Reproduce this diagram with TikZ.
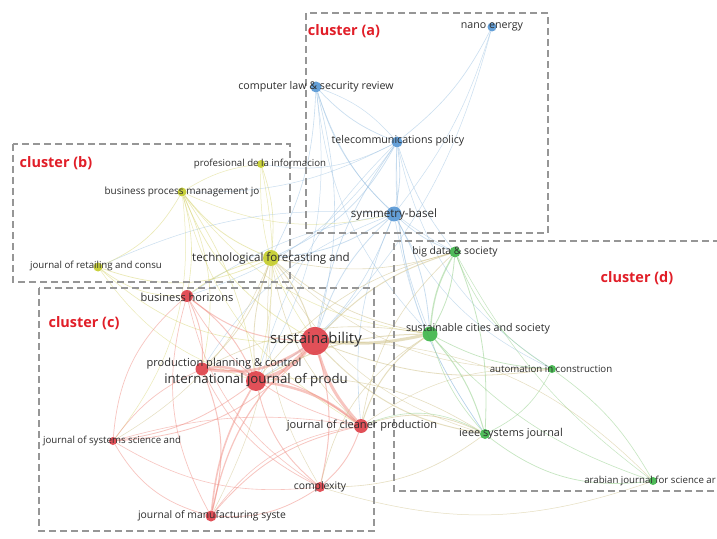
\documentclass[tikz,border=0pt]{standalone}
\usepackage{fontspec}
\setmainfont{Open Sans}
\pgfdeclarelayer{bg}
\pgfdeclarelayer{edges}
\pgfdeclarelayer{boxes}
\pgfsetlayers{bg,edges,boxes,main}
\definecolor{cred}{RGB}{222,62,70}
\definecolor{cblue}{RGB}{85,150,212}
\definecolor{cyel}{RGB}{196,204,40}
\definecolor{cgrn}{RGB}{60,180,72}
\definecolor{lred}{RGB}{240,140,130}
\definecolor{lblue}{RGB}{150,190,225}
\definecolor{lyel}{RGB}{215,212,110}
\definecolor{lgrn}{RGB}{140,205,130}
\definecolor{lbrn}{RGB}{205,190,130}
\definecolor{labelgray}{RGB}{45,45,45}
\definecolor{boxgray}{RGB}{150,150,150}
\definecolor{titlered}{RGB}{225,30,40}
\tikzset{
  vnode/.style={circle, inner sep=0pt, draw=none, fill=#1, fill opacity=0.9},
  lbl/.style={font=\fontsize{#1}{#1}\selectfont, text=labelgray, inner sep=0pt},
  clbox/.style={draw=boxgray, line width=1.6bp, dash pattern=on 7bp off 4bp},
  cltitle/.style={font=\fontsize{14.5}{14.5}\selectfont\bfseries, text=titlered, inner sep=0pt},
}
\begin{document}
\begin{tikzpicture}[x=1bp,y=-1bp]
\useasboundingbox (0,0) rectangle (717,539);
\begin{pgfonlayer}{bg}
\fill[white] (0,0) rectangle (717,539);
\end{pgfonlayer}
% ---------------- nodes (circles)
\node[vnode=cblue, minimum size=9bp]  (nano) at (492,27) {};
\node[vnode=cblue, minimum size=11bp] (comp) at (316,87) {};
\node[vnode=cblue, minimum size=11bp] (tele) at (397,142) {};
\node[vnode=cblue, minimum size=15bp] (sym)  at (394,214) {};
\node[vnode=cyel, minimum size=8bp]   (prof) at (261,164) {};
\node[vnode=cyel, minimum size=9bp]   (bpm)  at (182,192) {};
\node[vnode=cyel, minimum size=9bp]   (ret)  at (98,267) {};
\node[vnode=cyel, minimum size=16bp]  (tf)   at (271,258) {};
\node[vnode=cred, minimum size=12bp]  (bh)   at (187,296) {};
\node[vnode=cred, minimum size=28bp]  (sust) at (315,341) {};
\node[vnode=cred, minimum size=13bp]  (ppc)  at (202,369) {};
\node[vnode=cred, minimum size=20bp]  (ijp)  at (256,381) {};
\node[vnode=cred, minimum size=14bp]  (jcp)  at (361,426) {};
\node[vnode=cred, minimum size=8bp]   (jss)  at (113,441) {};
\node[vnode=cred, minimum size=10bp]  (cx)   at (320,487) {};
\node[vnode=cred, minimum size=11bp]  (jms)  at (211,516) {};
\node[vnode=cgrn, minimum size=11bp]  (bds)  at (455,252) {};
\node[vnode=cgrn, minimum size=15bp]  (scs)  at (430,334) {};
\node[vnode=cgrn, minimum size=8bp]   (aic)  at (552,369) {};
\node[vnode=cgrn, minimum size=10bp]  (ieee) at (485,434) {};
\node[vnode=cgrn, minimum size=8bp]   (arab) at (653,481) {};
% ---------------- edges
\begin{pgfonlayer}{edges}
\foreach \a/\b/\c/\w/\bb in {
  nano/tele/lblue/0.6/12, nano/sust/lblue/0.5/14, nano/sym/lblue/0.5/10,
  comp/tele/lblue/0.7/-12, comp/sym/lblue/0.7/-14, comp/sust/lblue/0.6/14, comp/tf/lblue/0.6/12,
  comp/ijp/lblue/0.5/18, comp/bds/lblue/0.5/-22, comp/scs/lblue/0.5/-18, comp/tele/lblue/0.5/14,
  tele/sym/lblue/0.8/10, tele/sust/lblue/0.7/-12, tele/tf/lblue/0.7/18, tele/bds/lblue/0.6/-10,
  tele/scs/lblue/0.6/-12, tele/ieee/lblue/0.5/-18, tele/bh/lblue/0.5/18, tele/ijp/lblue/0.5/-14,
  tele/aic/lblue/0.5/-22, tele/prof/lblue/0.5/18, tele/bpm/lblue/0.5/14,
  sym/sust/lblue/0.8/-14, sym/tf/lblue/0.8/14, sym/scs/lblue/0.8/12, sym/bds/lblue/0.7/-10,
  sym/ijp/lblue/0.6/18, sym/jcp/lblue/0.6/-14, sym/ieee/lblue/0.5/-12, sym/aic/lblue/0.5/-18,
  sym/bh/lblue/0.5/-12, sym/ppc/lblue/0.5/-18, sym/ret/lblue/0.5/-14,
  prof/tf/lyel/0.6/12, prof/bpm/lyel/0.5/-12, prof/sust/lyel/0.5/-18, prof/ijp/lyel/0.5/12,
  bpm/tf/lyel/0.8/-14, bpm/sust/lyel/0.7/-18, bpm/ijp/lyel/0.6/12, bpm/ppc/lyel/0.6/18,
  bpm/bh/lyel/0.6/12, bpm/ret/lyel/0.6/18, bpm/jss/lyel/0.5/22, bpm/jcp/lyel/0.5/-22,
  bpm/sym/lyel/0.5/-18, bpm/scs/lyel/0.5/-22,
  ret/tf/lyel/0.7/-22, ret/sust/lyel/0.6/-22, ret/bh/lyel/0.6/-18, ret/ijp/lyel/0.5/-18,
  tf/sust/lbrn/1.0/12, tf/ijp/lbrn/0.8/-12, tf/ppc/lbrn/0.7/14, tf/bh/lyel/0.8/-12,
  tf/jcp/lbrn/0.6/-18, tf/scs/lbrn/0.7/-14, tf/bds/lbrn/0.6/-14, tf/cx/lbrn/0.5/-18,
  tf/ieee/lbrn/0.5/-22, tf/jms/lbrn/0.5/14, tf/aic/lbrn/0.5/-22, tf/jss/lbrn/0.5/18,
  sust/ijp/lred/3.5/15, sust/ppc/lred/2.6/20, sust/jcp/lred/3.0/-12, sust/bh/lred/1.0/18,
  sust/jms/lred/1.2/-18, sust/cx/lred/1.0/14, sust/jss/lred/0.8/22, sust/scs/lbrn/3.0/-8,
  sust/ieee/lbrn/1.0/-18, sust/bds/lbrn/1.0/14, sust/aic/lbrn/0.8/-14, sust/arab/lbrn/0.5/22,
  ijp/ppc/lred/2.5/-20, ijp/jcp/lred/2.5/15, ijp/jms/lred/1.6/-12, ijp/cx/lred/0.9/-18,
  ijp/jss/lred/0.8/14, ijp/bh/lred/1.0/-14, ijp/scs/lbrn/1.0/14, ijp/ieee/lbrn/0.6/18,
  ijp/bds/lbrn/0.6/18,
  ppc/jms/lred/1.0/18, ppc/bh/lred/0.9/-14, ppc/jss/lred/0.7/-14, ppc/jcp/lred/0.9/18,
  ppc/cx/lred/0.7/-18, ppc/scs/lbrn/0.6/18,
  jcp/cx/lred/0.9/14, jcp/jms/lred/0.8/-18, jcp/scs/lbrn/1.0/18, jcp/ieee/lbrn/0.8/22,
  jcp/bh/lred/0.7/22, jcp/bds/lbrn/0.6/18, jcp/aic/lbrn/0.5/18,
  jss/jms/lred/0.7/-22, jss/bh/lred/0.7/22, jss/cx/lred/0.6/-18, jss/jcp/lred/0.6/12,
  jms/cx/lred/0.8/-18, jms/bh/lred/0.7/22, jms/jcp/lred/0.6/22,
  cx/ieee/lbrn/0.6/-18, cx/scs/lbrn/0.6/22, cx/bh/lred/0.6/22, cx/arab/lbrn/0.5/-18,
  bds/scs/lgrn/1.4/-12, bds/ieee/lgrn/0.8/12, bds/aic/lgrn/0.6/-18, bds/scs/lgrn/0.8/12,
  scs/aic/lgrn/0.7/-12, scs/ieee/lgrn/1.0/12, scs/arab/lgrn/0.6/-14, scs/ieee/lgrn/0.6/-12,
  ieee/arab/lgrn/0.7/-22, aic/arab/lgrn/0.6/12, ieee/aic/lgrn/0.6/-18, bds/arab/lgrn/0.5/-12,
  ieee/jcp/lgrn/0.6/-25}
{ \draw[draw=\c, line width=\w bp, opacity=0.5] (\a) to[bend left=\bb] (\b); }
\end{pgfonlayer}
% ---------------- cluster boxes
\begin{pgfonlayer}{boxes}
\draw[clbox] (306,13) rectangle (548,233);
\draw[clbox] (13,144) rectangle (290,282);
\draw[clbox] (39,288) rectangle (374,531);
\draw[clbox] (394,241) -- (725,241);
\draw[clbox] (725,491) -- (394,491) -- (394,241);
\end{pgfonlayer}
\node[cltitle] (ta) at (344,31)  {cluster (a)};
\node[cltitle] (tb) at (56,163)  {cluster (b)};
\node[cltitle] (tc) at (84,323)  {cluster (c)};
\node[cltitle] (td) at (637,278) {cluster (d)};
% ---------------- labels
\node[lbl=10.7] (lnano) at (492,27)  {nano energy};
\node[lbl=10.7] (lcomp) at (316,87)  {computer law \& security review};
\node[lbl=10.7] (ltele) at (398,141) {telecommunications policy};
\node[lbl=11.6] (lsym)  at (394,214) {symmetry-basel};
\node[lbl=9.7]  (lprof) at (260,164) {profesional de la informacion};
\node[lbl=10]   (lbpm)  at (182,192) {business process management jo};
\node[lbl=9.7]  (lret)  at (96,266)  {journal of retailing and consu};
\node[lbl=11.6] (ltf)   at (271,258) {technological forecasting and};
\node[lbl=11.1] (lbh)   at (187,297) {business horizons};
\node[lbl=15]   (lsust) at (316,340) {sustainability};
\node[lbl=11.1] (lppc)  at (224,364) {production planning \& control};
\node[lbl=13.3] (lijp)  at (256,380) {international journal of produ};
\node[lbl=11.1] (ljcp)  at (362,426) {journal of cleaner production};
\node[lbl=9.7]  (ljss)  at (112,441) {journal of systems science and};
\node[lbl=10.4] (lcx)   at (320,487) {complexity};
\node[lbl=10.4] (ljms)  at (212,516) {journal of manufacturing syste};
\node[lbl=10.4] (lbds)  at (455,252) {big data \& society};
\node[lbl=10.7] (lscs)  at (478,329) {sustainable cities and society};
\node[lbl=9.7]  (laic)  at (551,369) {automation in construction};
\node[lbl=10.9] (lieee) at (511,434) {ieee systems journal};
\node[lbl=9.7, anchor=east] (larab) at (716,481) {arabian journal for science ar};
\end{tikzpicture}
\end{document}
